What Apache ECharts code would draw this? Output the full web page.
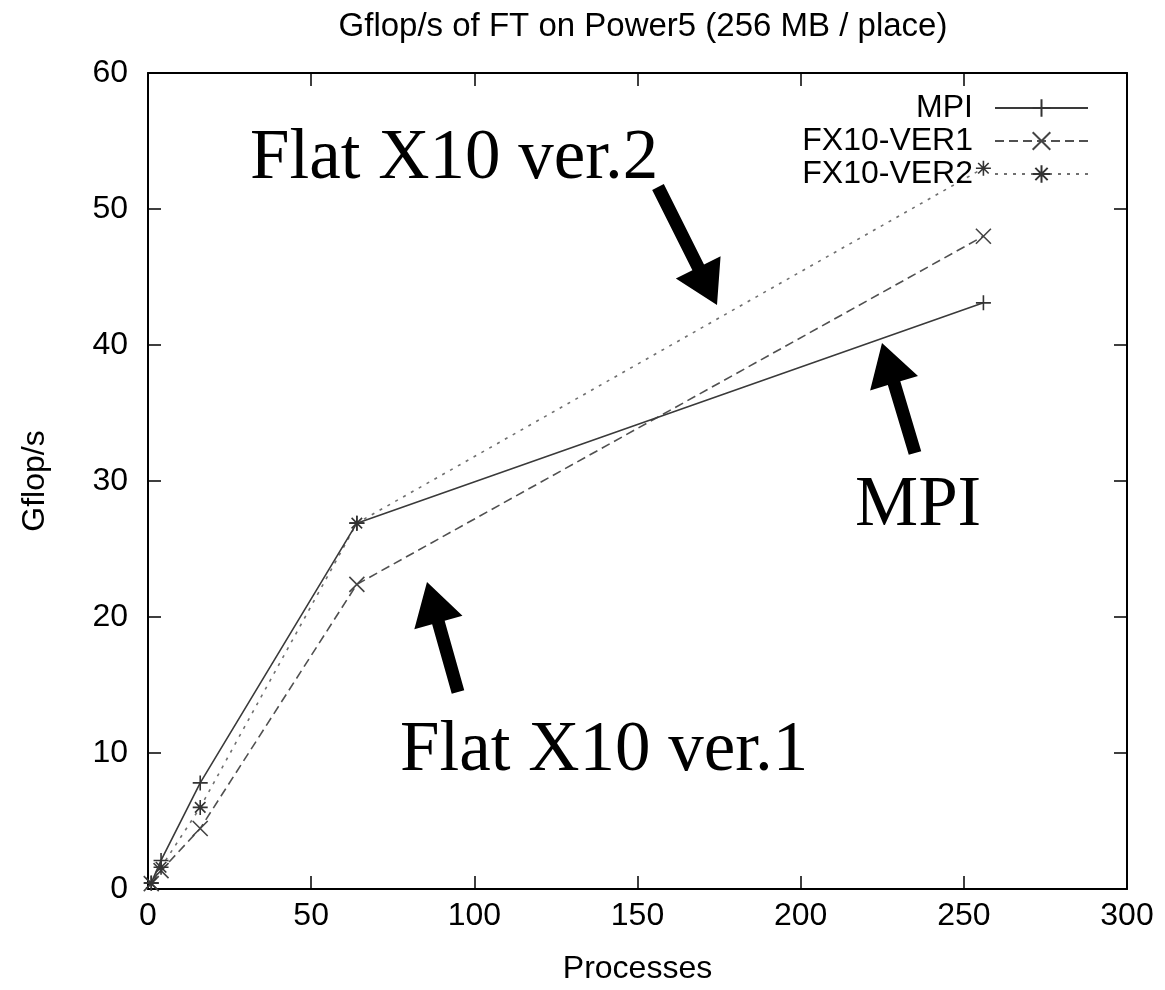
<!DOCTYPE html>
<html>
<head>
<meta charset="utf-8">
<script src="https://cdn.jsdelivr.net/npm/echarts@6/dist/echarts.min.js"></script>
<style>
html,body{margin:0;padding:0;background:#fff;}
#chart{width:1165px;height:990px;}
</style>
</head>
<body>
<div id="chart"></div>
<script>
// ---- data ----
const processes = [1, 4, 16, 64, 256];
const mpiValues = [0.45, 2.1, 7.8, 26.9, 43.1];
const ver1Values = [0.4, 1.35, 4.45, 22.4, 48.0];
const ver2Values = [0.42, 1.6, 6.0, 26.9, 53.0];
const seriesNames = ['MPI', 'FX10-VER1', 'FX10-VER2'];
const xTicks = [0, 50, 100, 150, 200, 250, 300];
const yTicks = [0, 10, 20, 30, 40, 50, 60];
const titleText = 'Gflop/s of FT on Power5 (256 MB / place)';
const xName = 'Processes';
const yName = 'Gflop/s';
const annotations = [
  {text: 'Flat X10 ver.2', x: 250, y: 124, tail: [658, 187], tip: [717, 305]},
  {text: 'MPI', x: 855, y: 471, tail: [915, 453], tip: [882, 343]},
  {text: 'Flat X10 ver.1', x: 400, y: 716, tail: [458, 692], tip: [427, 582]}
];

const FONT = '"Liberation Sans", Arial, Helvetica, sans-serif';
const SERIF = '"Liberation Serif", "DejaVu Serif", serif';

function pairs(xs, ys) { return xs.map((x, i) => [x, ys[i]]); }

function arrowPoints(tail, tip, sw, hw, hl) {
  const dx = tip[0] - tail[0], dy = tip[1] - tail[1];
  const len = Math.sqrt(dx * dx + dy * dy);
  const ux = dx / len, uy = dy / len;
  const nx = -uy, ny = ux;
  const bx = tip[0] - ux * hl, by = tip[1] - uy * hl;
  return [
    [tail[0] + nx * sw / 2, tail[1] + ny * sw / 2],
    [bx + nx * sw / 2, by + ny * sw / 2],
    [bx + nx * hw / 2, by + ny * hw / 2],
    [tip[0], tip[1]],
    [bx - nx * hw / 2, by - ny * hw / 2],
    [bx - nx * sw / 2, by - ny * sw / 2],
    [tail[0] - nx * sw / 2, tail[1] - ny * sw / 2]
  ];
}

const SYM_PLUS = 'path://M0,5L10,5M5,0L5,10';
const SYM_CROSS = 'path://M0,0L10,10M10,0L0,10';
const SYM_STAR = 'path://M0,5L10,5M5,0L5,10M1.5,1.5L8.5,8.5M8.5,1.5L1.5,8.5';

const chart = echarts.init(document.getElementById('chart'), null, {renderer: 'canvas'});

const grid = {left: 148, right: 38, top: 73, bottom: 100};

const axisCommon = {
  type: 'value',
  splitLine: {show: false},
  axisLine: {show: true, onZero: false, lineStyle: {color: '#000', width: 2}},
  axisTick: {show: true, inside: true, length: 13, lineStyle: {color: '#000', width: 1.5}}
};

const graphics = [];
annotations.forEach(a => {
  graphics.push({
    type: 'polygon',
    shape: {points: arrowPoints(a.tail, a.tip, 13, 50, 42)},
    style: {fill: '#000'},
    z: 100
  });
  graphics.push({
    type: 'text',
    x: a.x, y: a.y,
    style: {text: a.text, font: '71px ' + SERIF, fill: '#000'},
    z: 100
  });
});

const option = {
  animation: false,
  backgroundColor: '#fff',
  title: {
    text: titleText,
    left: 638, top: 5, textAlign: 'center',
    textStyle: {fontFamily: FONT, fontSize: 33, fontWeight: 'normal', color: '#000'}
  },
  legend: {
    data: seriesNames,
    orient: 'vertical',
    align: 'right',
    right: 71, top: 87,
    itemWidth: 93, itemHeight: 22, itemGap: 1,
    textStyle: {fontFamily: FONT, fontSize: 32, lineHeight: 32, color: '#000', padding: [0, 17, 0, 0]}
  },
  grid: grid,
  xAxis: [
    Object.assign({}, axisCommon, {
      min: 0, max: 300, interval: 50, position: 'bottom',
      name: xName, nameLocation: 'middle', nameGap: 64,
      nameTextStyle: {fontFamily: FONT, fontSize: 32, color: '#000'},
      axisLabel: {fontFamily: FONT, fontSize: 32, color: '#000', margin: 11}
    }),
    Object.assign({}, axisCommon, {
      min: 0, max: 300, interval: 50, position: 'top',
      axisLabel: {show: false}
    })
  ],
  yAxis: [
    Object.assign({}, axisCommon, {
      min: 0, max: 60, interval: 10, position: 'left',
      name: yName, nameLocation: 'middle', nameGap: 97, nameRotate: 90,
      nameTextStyle: {fontFamily: FONT, fontSize: 32, color: '#000'},
      axisLabel: {fontFamily: FONT, fontSize: 32, color: '#000', margin: 20}
    }),
    Object.assign({}, axisCommon, {
      min: 0, max: 60, interval: 10, position: 'right',
      axisLabel: {show: false}
    })
  ],
  series: [
    {
      name: seriesNames[0], type: 'line', data: pairs(processes, mpiValues),
      symbol: SYM_PLUS, symbolSize: 15, showAllSymbol: true,
      lineStyle: {color: '#3a3a3a', width: 1.6, type: 'solid'},
      itemStyle: {color: 'rgba(0,0,0,0)', borderColor: '#333', borderWidth: 1.6},
      z: 3
    },
    {
      name: seriesNames[1], type: 'line', data: pairs(processes, ver1Values),
      symbol: SYM_CROSS, symbolSize: 15, showAllSymbol: true,
      lineStyle: {color: '#505050', width: 1.6, type: [9, 5]},
      itemStyle: {color: 'rgba(0,0,0,0)', borderColor: '#444', borderWidth: 1.6},
      z: 2
    },
    {
      name: seriesNames[2], type: 'line', data: pairs(processes, ver2Values),
      symbol: SYM_STAR, symbolSize: 15, showAllSymbol: true,
      lineStyle: {color: '#707070', width: 1.6, type: [3, 6]},
      itemStyle: {color: 'rgba(0,0,0,0)', borderColor: '#333', borderWidth: 1.6},
      z: 2
    }
  ],
  graphic: graphics
};

chart.setOption(option);
</script>
</body>
</html>
